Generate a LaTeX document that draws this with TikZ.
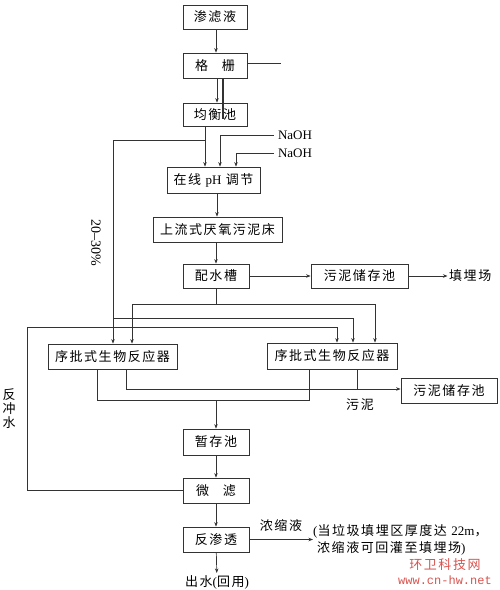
\documentclass[tikz,border=0pt]{standalone}
\usepackage{fontspec}
\setmainfont{Liberation Serif}
\newfontfamily\cjk[LetterSpace=12]{Noto Sans CJK SC}
\newfontfamily\wmfont{Liberation Mono}
\usetikzlibrary{arrows.meta,calc}
\definecolor{wmred}{HTML}{D9544F}
\definecolor{lncol}{HTML}{333333}
\begin{document}
\begin{tikzpicture}[x=1pt,y=-1pt,
  box/.style={draw=lncol,line width=0.8pt,inner sep=0pt,minimum height=25pt,font=\fontsize{13}{15}\selectfont\cjk},
  lbl/.style={inner sep=0pt,font=\fontsize{13}{15}\selectfont\cjk},
  ln/.style={draw=lncol,line width=0.7pt},
  arr/.style={ln,-{Stealth[length=4.5pt,width=3.5pt]}},
]
\useasboundingbox (0,0) rectangle (500,590);
\fill[white] (0,0) rectangle (500,590);

% boxes
\node[box,minimum width=64pt,minimum height=24pt] (sl) at (215,17) {渗滤液};
\node[box,minimum width=64pt] (gs) at (215,65.5) {格\hspace{14pt}栅};
\node[box,minimum width=64pt,minimum height=23pt] (jh) at (215,114.5) {均衡池};
\node[box,minimum width=93pt,minimum height=26pt] (ph) at (213.5,180) {在线 {\rmfamily pH} 调节};
\node[box,minimum width=129pt] (ua) at (217.5,229.5) {上流式厌氧污泥床};
\node[box,minimum width=66pt,minimum height=24pt] (ps) at (216,276) {配水槽};
\node[box,minimum width=97pt,minimum height=24pt] (wn1) at (359.5,276) {污泥储存池};
\node[lbl,anchor=west] (tm) at (449,276) {填埋场};
\node[box,minimum width=129pt] (s1) at (112.5,356.5) {序批式生物反应器};
\node[box,minimum width=130pt,minimum height=26pt] (s2) at (332,356) {序批式生物反应器};
\node[box,minimum width=96pt] (wn2) at (449,390.5) {污泥储存池};
\node[box,minimum width=66pt,minimum height=26pt] (zc) at (216,442) {暂存池};
\node[box,minimum width=66pt] (wl) at (216,490.5) {微\hspace{14pt}滤};
\node[box,minimum width=66pt] (fs) at (216,539.5) {反渗透};

% labels
\node[lbl] (out) at (217,582) {出水{\rmfamily(}回用{\rmfamily)}};
\node[lbl] (nao1) at (295,135) {\rmfamily NaOH};
\node[lbl] (nao2) at (295,153) {\rmfamily NaOH};
\node[lbl,rotate=-90] (pct) at (96,243) {\rmfamily\fontsize{14}{16}\selectfont 20–30\%};
\node[lbl] (nsy) at (281,526) {浓缩液};
\node[lbl,anchor=west] (n1) at (313,531.5) {{\rmfamily(}当垃圾填埋区厚度达 {\rmfamily 22m}，};
\node[lbl,anchor=west] (n2) at (317,548.5) {浓缩液可回灌至填埋场{\rmfamily)}};
\node[lbl] (wni) at (360,405) {污泥};
\node[lbl] (fc1) at (9,395) {反};
\node[lbl] (fc2) at (9,409) {冲};
\node[lbl] (fc3) at (9,423) {水};
\node[lbl,text=wmred] (wm1) at (445,565) {环卫科技网};
\node[lbl,text=wmred,font=\fontsize{12}{14}\selectfont\wmfont] (wm2) at (445,580) {www.cn-hw.net};

% top chain
\draw[arr] ([xshift=1pt]sl.south) -- ([xshift=1pt]gs.north);
\draw[arr] ([xshift=2pt]gs.south) -- ([xshift=2pt]jh.north);
\coordinate (gsr) at (281,63);
\draw[ln] ([yshift=2.5pt]gs.east) -- (gsr);
\draw[ln,line width=1.2pt] ([xshift=8pt]gs.south) -- ([xshift=8pt,yshift=-4pt]jh.center);

% equalization -> pH
\draw[arr] ([xshift=-10pt]jh.south) -- ([xshift=-10pt]jh.south |- ph.north);
\coordinate (b1) at (205,140);
\coordinate (b2) at (113,140);
\draw[arr] (b1) -- (b2) -- (b2 |- s1.north);
\coordinate (b3) at (113,318);
\coordinate (b4) at (353,318);
\draw[arr] (b3) -- (b4) -- (b4 |- s2.north);

% NaOH
\coordinate (na1) at (220,135);
\coordinate (na2) at (236,153);
\draw[arr] ([xshift=-4pt]nao1.west) -- (na1) -- (na1 |- ph.north);
\draw[arr] ([xshift=-4pt]nao2.west) -- (na2) -- (na2 |- ph.north);

\draw[arr] ([xshift=3.5pt]ph.south) -- ([xshift=3.5pt]ph.south |- ua.north);
\draw[arr] ([xshift=-1.5pt]ua.south) -- ([xshift=-1.5pt]ua.south |- ps.north);

\draw[arr] (ps) -- (wn1);
\draw[arr,shorten >=1.5pt] (wn1) -- (tm);

% distribution
\coordinate (d0) at (216,304);
\coordinate (d1) at (132,304);
\coordinate (d2) at (375,304);
\draw[ln] (ps.south) -- (d0);
\draw[arr] (d0) -- (d1) -- (d1 |- s1.north);
\draw[arr] (d0) -- (d2) -- (d2 |- s2.north);

% backwash
\coordinate (w1) at (27,490.5);
\coordinate (w2) at (27,327);
\coordinate (w3) at (337,327);
\draw[arr] (wl.west) -- (w1) -- (w2) -- (w3) -- (w3 |- s2.north);

% SBR outputs
\coordinate (o1) at (97,400);
\coordinate (o2) at (309,400);
\coordinate (o0) at (216,400);
\draw[ln] (o1 |- s1.south) -- (o1) -- (o2) -- (o2 |- s2.south);
\draw[arr] (o0) -- (zc.north);

% sludge
\coordinate (sg1) at (126,389);
\coordinate (sg2) at (357,389);
\draw[arr] (sg1 |- s1.south) -- (sg1) -- (sg1 -| wn2.west);
\draw[ln] (sg2 |- s2.south) -- (sg2);

% lower chain
\draw[arr] (zc) -- (wl);
\draw[arr] (wl) -- (fs);
\draw[arr,shorten >=2pt] (fs) -- (out);
\coordinate (c1) at (313,539.5);
\draw[arr] (fs.east) -- (c1);
\end{tikzpicture}
\end{document}
